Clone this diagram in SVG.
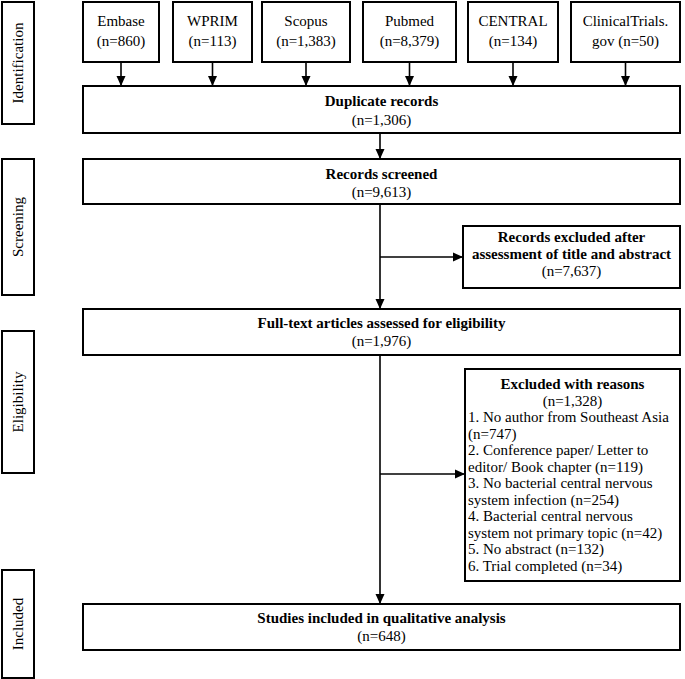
<svg xmlns="http://www.w3.org/2000/svg" width="685" height="679" viewBox="0 0 685 679">
<defs>
<marker id="ah" markerUnits="userSpaceOnUse" markerWidth="10" markerHeight="10" viewBox="0 0 10 10" refX="10" refY="5" orient="auto">
<path d="M0,0.5 L10,5 L0,9.5 z" fill="#000"/>
</marker>
<style>
rect{fill:#fff;stroke:#000;stroke-width:2}
text{font-family:"Liberation Serif","Times New Roman",serif;font-size:15px;fill:#000}
.c{text-anchor:middle}
.b{font-weight:bold}
.cn line{stroke:#000;stroke-width:1.6}
.cn .a{marker-end:url(#ah)}
</style>
</defs>
<rect width="685" height="679" style="fill:#fff;stroke:none"/>

<g id="stage-identification"><rect x="2" y="2" width="32" height="122"/><text class="c" transform="translate(18,63) rotate(-90)" x="0" y="5">Identification</text></g>
<g id="stage-screening"><rect x="2" y="159" width="32" height="136"/><text class="c" transform="translate(18,227) rotate(-90)" x="0" y="5">Screening</text></g>
<g id="stage-eligibility"><rect x="2" y="331" width="32" height="142"/><text class="c" transform="translate(18,402) rotate(-90)" x="0" y="5">Eligibility</text></g>
<g id="stage-included"><rect x="2" y="570" width="32" height="108"/><text class="c" transform="translate(18,624) rotate(-90)" x="0" y="5">Included</text></g>

<g class="cn" id="connectors">
<line class="a" x1="121" y1="62" x2="121" y2="86"/>
<line class="a" x1="212.5" y1="62" x2="212.5" y2="86"/>
<line class="a" x1="306" y1="62" x2="306" y2="86"/>
<line class="a" x1="409.5" y1="62" x2="409.5" y2="86"/>
<line class="a" x1="513" y1="62" x2="513" y2="86"/>
<line class="a" x1="625.5" y1="62" x2="625.5" y2="86"/>
<line class="a" x1="380" y1="133" x2="380" y2="159"/>
<line class="a" x1="380" y1="204" x2="380" y2="309"/>
<line class="a" x1="380" y1="257" x2="463" y2="257"/>
<line class="a" x1="380" y1="355" x2="380" y2="604"/>
<line class="a" x1="380" y1="474" x2="465" y2="474"/>
</g>

<g id="embase"><rect x="83" y="2" width="76" height="60"/><text class="c" x="121" y="26">Embase</text><text class="c" x="121" y="46">(n=860)</text></g>
<g id="wprim"><rect x="173" y="2" width="79" height="60"/><text class="c" x="212.5" y="26">WPRIM</text><text class="c" x="212.5" y="46">(n=113)</text></g>
<g id="scopus"><rect x="262" y="2" width="88" height="60"/><text class="c" x="306" y="26">Scopus</text><text class="c" x="306" y="46">(n=1,383)</text></g>
<g id="pubmed"><rect x="363" y="2" width="93" height="60"/><text class="c" x="409.5" y="26">Pubmed</text><text class="c" x="409.5" y="46">(n=8,379)</text></g>
<g id="central"><rect x="468" y="2" width="90" height="60"/><text class="c" x="513" y="26">CENTRAL</text><text class="c" x="513" y="46">(n=134)</text></g>
<g id="clinicaltrials"><rect x="571" y="2" width="109" height="60"/><text class="c" x="625.5" y="26">ClinicalTrials.</text><text class="c" x="625.5" y="46">gov (n=50)</text></g>

<g id="duplicate"><rect x="83" y="86" width="597" height="47"/><text class="c b" x="381.5" y="106">Duplicate records</text><text class="c" x="381.5" y="125">(n=1,306)</text></g>
<g id="screened"><rect x="83" y="159" width="597" height="45"/><text class="c b" x="381.5" y="179">Records screened</text><text class="c" x="381.5" y="197">(n=9,613)</text></g>
<g id="excluded-title"><rect x="463" y="226" width="217" height="62"/><text class="c b" x="571.5" y="242">Records excluded after</text><text class="c b" x="571.5" y="259">assessment of title and abstract</text><text class="c" x="571.5" y="276">(n=7,637)</text></g>
<g id="fulltext"><rect x="83" y="309" width="597" height="46"/><text class="c b" x="381.5" y="328">Full-text articles assessed for eligibility</text><text class="c" x="381.5" y="346">(n=1,976)</text></g>
<g id="excluded-reasons"><rect x="465" y="369" width="215" height="212"/>
<text class="c b" x="572.5" y="389">Excluded with reasons</text>
<text class="c" x="572.5" y="405.5">(n=1,328)</text>
<text x="468" y="422">1. No author from Southeast Asia</text>
<text x="468" y="438.5">(n=747)</text>
<text x="468" y="455">2. Conference paper/ Letter to</text>
<text x="468" y="471.5">editor/ Book chapter (n=119)</text>
<text x="468" y="488">3. No bacterial central nervous</text>
<text x="468" y="504.5">system infection (n=254)</text>
<text x="468" y="521">4. Bacterial central nervous</text>
<text x="468" y="537.5">system not primary topic (n=42)</text>
<text x="468" y="554">5. No abstract (n=132)</text>
<text x="468" y="570.5">6. Trial completed (n=34)</text>
</g>
<g id="included"><rect x="83" y="604" width="597" height="46"/><text class="c b" x="381.5" y="623">Studies included in qualitative analysis</text><text class="c" x="381.5" y="641">(n=648)</text></g>
</svg>
